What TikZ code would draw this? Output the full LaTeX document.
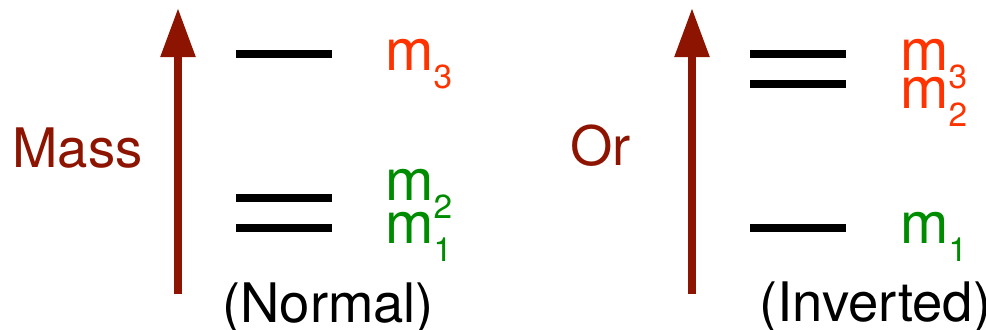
\documentclass[tikz,border=0pt]{standalone}
\usepackage{fontspec}
\setmainfont{TeX Gyre Heros}
\usepackage{tikz}
\usetikzlibrary{positioning, arrows.meta}
\definecolor{axisred}{RGB}{140,20,0}
\definecolor{heavyred}{RGB}{255,51,0}
\definecolor{lightgreen}{RGB}{0,140,0}
\newcommand{\mlab}[1]{m\raisebox{-0.32em}{\fontsize{19}{19}\selectfont #1}}

\begin{document}
\begin{tikzpicture}[x=0.02cm, y=-0.02cm,
        masslabel/.style = {inner sep=0pt, anchor=base west, font=\fontsize{31}{31}\selectfont},
        mlabel/.style = {masslabel, font=\fontsize{33}{33}\selectfont},
        axis/.style = {axisred, line width=4.5pt, -{Triangle[length=28pt, width=19pt]}},
        level/.style = {line width=4pt},
    ]
        \useasboundingbox (0,0) rectangle (986,329);

        % normal ordering
        \coordinate (nbot) at (178,294);
        \coordinate (ntop) at (178,8);
        \draw[axis] (nbot) -- (ntop);
        \node[masslabel, axisred] (mass) at (12,167) {Mass};
        \draw[level] (236,54) -- (332,54);
        \draw[level] (236,198) -- (332,198);
        \draw[level] (236,228) -- (332,228);
        \node[mlabel, heavyred] (nm3) at (385,70) {\mlab{3}};
        \node[mlabel, lightgreen] (nm2) at (385,200) {\mlab{2}};
        \node[mlabel, lightgreen] (nm1) at (385,243) {\mlab{1}};
        \node[masslabel] (normal) at (222,322) {(Normal)};

        % inverted ordering
        \coordinate (ibot) at (692,294);
        \coordinate (itop) at (692,8);
        \draw[axis] (ibot) -- (itop);
        \node[masslabel, axisred] (or) at (570,165) {Or};
        \draw[level] (750,54) -- (846,54);
        \draw[level] (750,84) -- (846,84);
        \draw[level] (750,228) -- (846,228);
        \node[mlabel, heavyred] (im3) at (900,70) {\mlab{3}};
        \node[mlabel, heavyred] (im2) at (900,108) {\mlab{2}};
        \node[mlabel, lightgreen] (im1) at (900,243) {\mlab{1}};
        \node[masslabel] (inverted) at (759,321) {(Inverted)};
    \end{tikzpicture}
\end{document}
